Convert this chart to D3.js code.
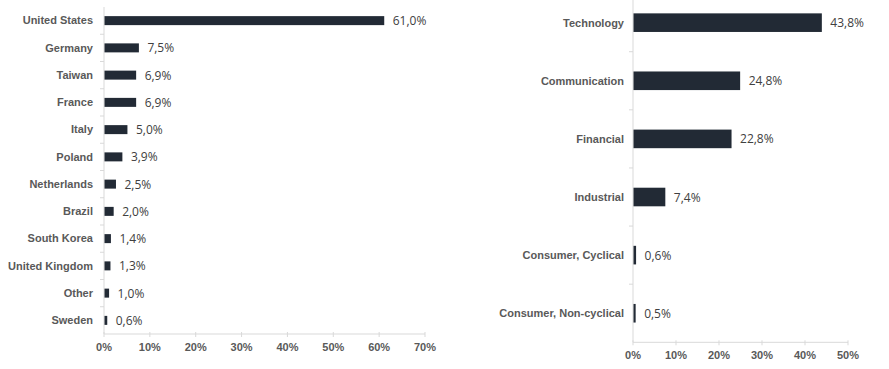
<!DOCTYPE html>
<html><head><meta charset="utf-8">
<script src="https://cdn.jsdelivr.net/npm/d3@7"></script>
<style>body{margin:0;background:#fff}svg{display:block}</style>
</head><body>
<svg id="c" width="889" height="369"></svg>
<script>
const countries = ["United States","Germany","Taiwan","France","Italy","Poland","Netherlands","Brazil","South Korea","United Kingdom","Other","Sweden"];
const countryValues = [61.0,7.5,6.9,6.9,5.0,3.9,2.5,2.0,1.4,1.3,1.0,0.6];
const countryTicks = [0,10,20,30,40,50,60,70];
const sectors = ["Technology","Communication","Financial","Industrial","Consumer, Cyclical","Consumer, Non-cyclical"];
const sectorValues = [43.8,24.8,22.8,7.4,0.6,0.5];
const sectorTicks = [0,10,20,30,40,50];

const svg = d3.select("#c");
const barColor = "#222a35", axisColor = "#d9d9d9";
const fmt = v => v.toFixed(1).replace(".", ",") + "%";

function panel(cats, vals, ticks, x0, x1, y0, y1, labelX, tickY, barFrac){
  const g = svg.append("g");
  const x = d3.scaleLinear().domain([0, ticks[ticks.length-1]]).range([x0, x1]);
  const y = d3.scaleBand().domain(cats).range([y0, y1]).paddingInner(1-barFrac).paddingOuter((1-barFrac)/2);
  const band = (y1 - y0) / cats.length;
  // category separators ticks
  const sep = d3.range(cats.length + 1).map(i => y0 + i * band);
  g.selectAll(".yt").data(sep.slice(1, -1)).join("line")
    .attr("x1", x0 - 4).attr("x2", x0).attr("y1", d => d).attr("y2", d => d)
    .attr("stroke", axisColor);
  g.append("line").attr("x1", x0).attr("x2", x0).attr("y1", Math.max(y0,0)).attr("y2", y1).attr("stroke", axisColor);
  g.append("line").attr("x1", x0).attr("x2", x1).attr("y1", y1).attr("y2", y1).attr("stroke", axisColor);
  g.selectAll(".xt").data(ticks).join("line")
    .attr("x1", d => x(d)).attr("x2", d => x(d)).attr("y1", y1 - 2).attr("y2", y1 + 3)
    .attr("stroke", axisColor);
  g.selectAll(".xl").data(ticks).join("text")
    .attr("x", d => x(d)).attr("y", tickY).attr("text-anchor", "middle")
    .attr("font-family", "Arial, 'Liberation Sans', sans-serif").attr("font-weight", "bold")
    .attr("font-size", 11).attr("fill", "#595959").text(d => d + "%");
  g.selectAll(".bar").data(cats).join("rect")
    .attr("x", x0 + 0.5).attr("y", d => y(d)).attr("height", y.bandwidth())
    .attr("width", (d, i) => x(vals[i]) - x0).attr("fill", barColor);
  g.selectAll(".cl").data(cats).join("text")
    .attr("x", labelX).attr("y", d => y(d) + y.bandwidth()/2).attr("dy", "0.35em")
    .attr("text-anchor", "end")
    .attr("font-family", "Arial, 'Liberation Sans', sans-serif").attr("font-weight", "bold")
    .attr("font-size", 11).attr("fill", "#595959").text(d => d);
  g.selectAll(".vl").data(cats).join("text")
    .attr("x", (d, i) => x(vals[i]) + 9).attr("y", d => y(d) + y.bandwidth()/2).attr("dy", "0.38em")
    .attr("font-family", "'Open Sans', 'DejaVu Sans', sans-serif")
    .attr("font-size", 12).attr("fill", "#404040").text((d, i) => fmt(vals[i]));
}

panel(countries, countryValues, countryTicks, 104, 425, 7, 334, 93, 351, 0.33);
panel(sectors, sectorValues, sectorTicks, 633, 848, -6.4, 342.3, 624, 359, 0.32);
</script>
</body></html>
